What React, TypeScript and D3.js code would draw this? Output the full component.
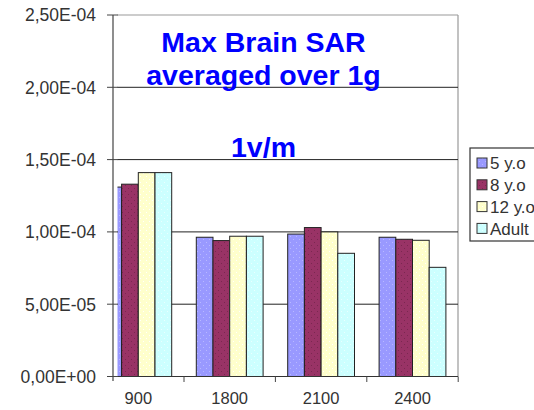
import React from "react";
import * as d3 from "d3";

const categories = ["900", "1800", "2100", "2400"];
const seriesNames = ["5 y.o", "8 y.o", "12 y.o", "Adult"];
const values5 = [1.31e-4, 0.963e-4, 0.985e-4, 0.963e-4];
const values8 = [1.33e-4, 0.94e-4, 1.03e-4, 0.949e-4];
const values12 = [1.41e-4, 0.97e-4, 1.0e-4, 0.942e-4];
const valuesAdult = [1.41e-4, 0.97e-4, 0.852e-4, 0.755e-4];
const yTicks = [0, 5e-5, 1e-4, 1.5e-4, 2e-4, 2.5e-4];
const yTickLabels = ["0,00E+00", "5,00E-05", "1,00E-04", "1,50E-04", "2,00E-04", "2,50E-04"];
const titleLines = ["Max Brain SAR", "averaged over 1g"];
const subTitle = "1v/m";

const colors = ["#9999FF", "#993366", "#FFFFCC", "#CCFFFF"];
const dotColors = ["#b8b8ff", "#7a2850", "#ffffff", "#eaffff"];

const FONT = "'Liberation Sans', Arial, sans-serif";

export default function App() {
  const W = 534, H = 410;
  const axisX = 113;
  const plotLeft = 117.5;
  const plotRight = 458;
  const x = d3.scaleBand<string>().domain(categories).range([92.6, 458.2]).paddingInner(0).paddingOuter(0);
  const y = d3.scaleLinear().domain([0, 2.5e-4]).range([376.5, 15]);
  const step = x.bandwidth();
  const groupW = 66.8;
  const inner = d3.scaleBand<string>().domain(seriesNames).range([(step - groupW) / 2, (step + groupW) / 2]);
  const allSeries = [values5, values8, values12, valuesAdult];

  return (
    <svg width={W} height={H} style={{ position: "absolute", left: 0, top: 0, background: "#fff" }} fontFamily={FONT}>
      <defs>
        <clipPath id="plotClip">
          <rect x={plotLeft} y={0} width={plotRight - plotLeft + 1} height={H} />
        </clipPath>
        {colors.map((c, i) => (
          <pattern key={i} id={`pat${i}`} width={6} height={6} patternUnits="userSpaceOnUse">
            <rect width={6} height={6} fill={c} />
            <rect x={2} y={2} width={1} height={1} fill={dotColors[i]} />
            <rect x={5} y={5} width={1} height={1} fill={dotColors[i]} />
          </pattern>
        ))}
      </defs>

      {/* plot frame top and right */}
      <line x1={plotLeft} x2={plotRight} y1={y(2.5e-4)} y2={y(2.5e-4)} stroke="#999" strokeWidth={1.2} />
      <line x1={plotRight} x2={plotRight} y1={y(2.5e-4)} y2={y(0)} stroke="#999" strokeWidth={1.2} />

      {/* gridlines */}
      {yTicks.slice(1, 5).map((t) => (
        <line key={t} x1={plotLeft} x2={plotRight} y1={y(t)} y2={y(t)} stroke="#222" strokeWidth={1} />
      ))}

      {/* bars */}
      <g clipPath="url(#plotClip)">
        {categories.map((cat, ci) =>
          allSeries.map((vals, si) => {
            const bx = (x(cat) as number) + (inner(seriesNames[si]) as number);
            return (
              <rect
                key={`${ci}-${si}`}
                x={bx}
                y={y(vals[ci])}
                width={inner.bandwidth()}
                height={y(0) - y(vals[ci])}
                fill={`url(#pat${si})`}
                stroke="#222"
                strokeWidth={1}
              />
            );
          })
        )}
      </g>

      {/* axes */}
      <line x1={axisX} x2={axisX} y1={y(2.5e-4)} y2={381} stroke="#444" strokeWidth={1.2} />
      <line x1={axisX} x2={plotRight} y1={y(0)} y2={y(0)} stroke="#333" strokeWidth={1.2} />
      {yTicks.map((t, i) => (
        <g key={t}>
          <line x1={107} x2={118} y1={y(t)} y2={y(t)} stroke="#444" strokeWidth={1} />
          <text x={96} y={y(t)} dy="0.36em" textAnchor="end" fontSize={17.5} fill="#333">
            {yTickLabels[i]}
          </text>
        </g>
      ))}
      {categories.map((cat) => (
        <g key={cat}>
          <line x1={(x(cat) as number) + step} x2={(x(cat) as number) + step} y1={y(0)} y2={382} stroke="#444" strokeWidth={1} />
          <text x={(x(cat) as number) + step / 2} y={404} textAnchor="middle" fontSize={16.5} fill="#333">
            {cat}
          </text>
        </g>
      ))}

      {/* title */}
      <g fill="#0000FF" fontWeight="bold" fontSize={28.5} textAnchor="middle">
        <text x={263.5} y={52}>{titleLines[0]}</text>
        <text x={263.5} y={85}>{titleLines[1]}</text>
        <text x={263.5} y={157}>{subTitle}</text>
      </g>

      {/* legend */}
      <rect x={470} y={148} width={80} height={93} fill="#fff" stroke="#333" strokeWidth={1.2} />
      {seriesNames.map((s, i) => {
        const cy = 163 + i * 21.8;
        return (
          <g key={s}>
            <rect x={477} y={cy - 5} width={10} height={10} fill={`url(#pat${i})`} stroke="#333" strokeWidth={1} />
            <text x={490} y={cy} dy="0.36em" fontSize={17} fill="#333">
              {s}
            </text>
          </g>
        );
      })}
    </svg>
  );
}
